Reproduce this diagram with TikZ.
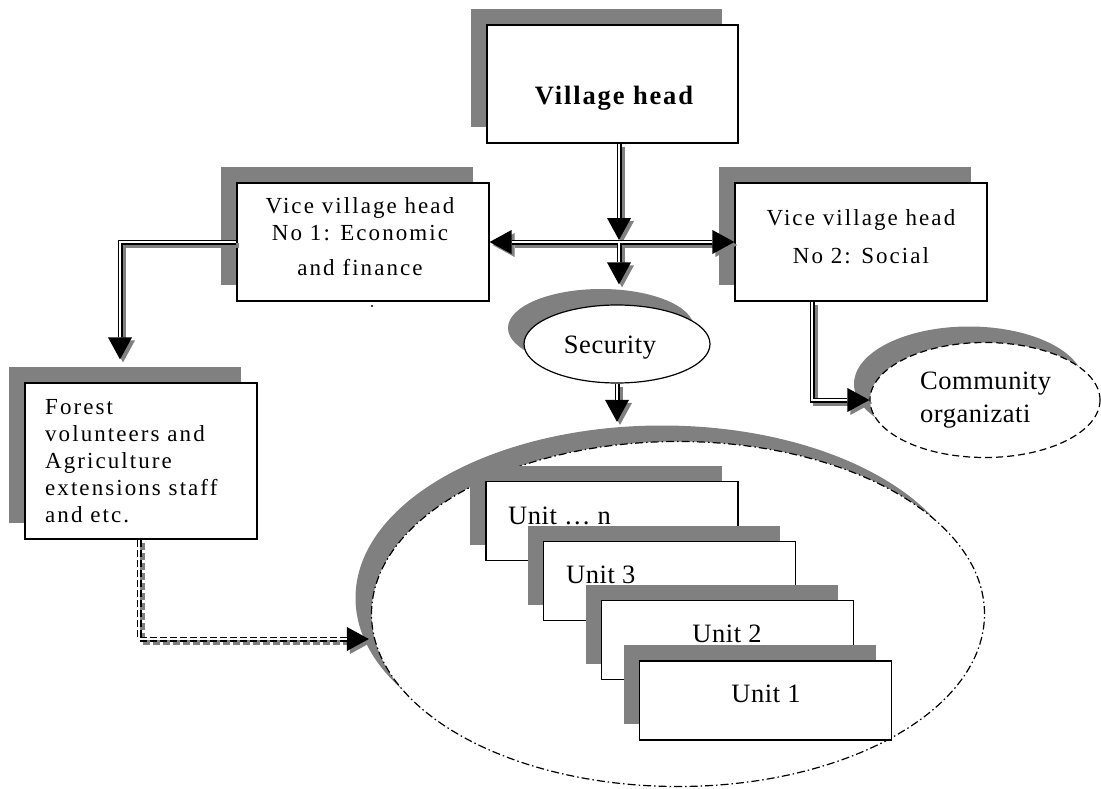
\documentclass[tikz,border=0pt]{standalone}
\usepackage{fontspec}
\setmainfont{Liberation Serif}
\newfontfamily\plainfam[LetterSpace=9]{Liberation Serif}
\newfontfamily\widefam[LetterSpace=2]{Liberation Serif}
\newfontfamily\headfam[LetterSpace=7]{Liberation Serif}
\usetikzlibrary{shapes.geometric,shadows,arrows.meta,calc}
\definecolor{shd}{RGB}{128,128,128}
\tikzset{
  frame/.style={draw=black, line width=1.2pt, fill=white, inner sep=0pt,
    general shadow={draw=none, fill=shd, shadow xshift=-16pt, shadow yshift=16pt}},
  box/.style={frame, rectangle},
  unitbox/.style={box, minimum width=252pt, minimum height=79pt},
  oval/.style={frame, ellipse},
  smalltext/.style={font=\plainfam\fontsize{23}{27}\selectfont, inner sep=0pt},
  bigtext/.style={font=\widefam\fontsize{26.5}{33}\selectfont, inner sep=0pt},
  headtext/.style={font=\headfam\bfseries\fontsize{26.5}{32}\selectfont, inner sep=0pt},
  tipend/.style={-{Triangle[length=22pt,width=24pt,line width=0pt]}},
  tipboth/.style={{Triangle[length=22pt,width=24pt,line width=0pt]}-{Triangle[length=22pt,width=24pt,line width=0pt]}},
  link/.style={line width=5pt, draw=black, tipend,
    preaction={draw=shd, line width=5pt, tipend, transform canvas={shift={(3,3)}}},
    postaction={draw=white, line width=1.8pt, arrows=-, shorten >=22pt}},
  twolink/.style={line width=5pt, draw=black, tipboth,
    preaction={draw=shd, line width=5pt, tipboth, transform canvas={shift={(3,3)}}},
    postaction={draw=white, line width=1.8pt, arrows=-, shorten >=22pt, shorten <=22pt}},
  dashlink/.style={line width=5pt, draw=black, tipend, dash pattern=on 7pt off 3pt,
    preaction={draw=shd, line width=5pt, tipend, dash pattern=on 7pt off 3pt, transform canvas={shift={(3,3)}}},
    postaction={draw=white, line width=1.8pt, arrows=-, solid, shorten >=22pt}},
}
\begin{document}
\begin{tikzpicture}[x=1pt,y=-1pt]
\useasboundingbox (0,0) rectangle (1101,789);

% large unit enclosure and the stacked units
\node[oval, minimum width=613pt, minimum height=345pt,
  dash pattern=on 8pt off 3pt on 1.5pt off 3pt] (big) at (678,614) {};
\node[unitbox] (un) at (612,521) {};
\node[bigtext, anchor=base west] (un-t) at (508,524) {Unit … n};
\node[unitbox] (u3) at (669.5,581) {};
\node[bigtext, anchor=base west] (u3-t) at (566,583) {Unit 3};
\node[unitbox] (u2) at (727.5,640) {};
\node[bigtext, anchor=base] (u2-t) at (727,642) {Unit 2};
\node[unitbox] (u1) at (765.5,700.5) {};
\node[bigtext, anchor=base] (u1-t) at (766,702) {Unit 1};

% head and vice heads (multi-line labels are anchored on their last baseline)
\node[box, minimum width=251pt, minimum height=118pt] (vh) at (612.5,84) {};
\node[headtext, anchor=base] (vh-t) at (614,105) {Village head};
\node[box, minimum width=252pt, minimum height=118pt] (v1) at (363,242) {};
\node[smalltext, align=center, anchor=base] (v1-t) at (360,275)
  {Vice village head\\No 1: Economic\\[8pt]and finance};
\node[box, minimum width=252pt, minimum height=118pt] (v2) at (861,242) {};
\node[smalltext, align=center, anchor=base] (v2-t) at (861,263)
  {Vice village head\\[11pt]No 2: Social};
\fill (372,306) circle (1.2pt);

% forest / agriculture staff
\node[box, minimum width=232pt, minimum height=156pt] (fo) at (141,461) {};
\node[smalltext, align=left, anchor=base west] (fo-t) at (45,522)
  {Forest\\volunteers and\\Agriculture\\extensions staff\\and etc.};

% security and community organisation
\node[oval, minimum width=186pt, minimum height=78pt] (sec) at (617,344) {};
\node[bigtext, anchor=base] (sec-t) at (610,353) {Security};
\node[oval, dash pattern=on 7pt off 4pt, minimum width=230pt, minimum height=115pt] (co) at (985,400) {};
\node[bigtext, align=left, anchor=base west] (co-t) at (920,422) {Community\\organizati};

% connectors
\coordinate (hub) at (619,243);
\draw[link] (vh.south -| hub) -- ($(hub)+(0,-3)$);
\draw[twolink] (v1.east) -- (v2.west);
\draw[link] (hub) -- ($(sec.north -| hub)+(0,-20)$);
\draw[link] (sec.south) -- ($(big.north -| sec.south)+(0,-19)$);
\draw[link] (v1.west) -| ($(fo.north)+(-21,-23)$);
\draw[link] ($(v2.south)+(-49,0)$) |- (co.west);
\draw[dashlink] ($(fo.south)+(-2,0)$) |- ($(big.west)+(-2,25)$);
\end{tikzpicture}
\end{document}
